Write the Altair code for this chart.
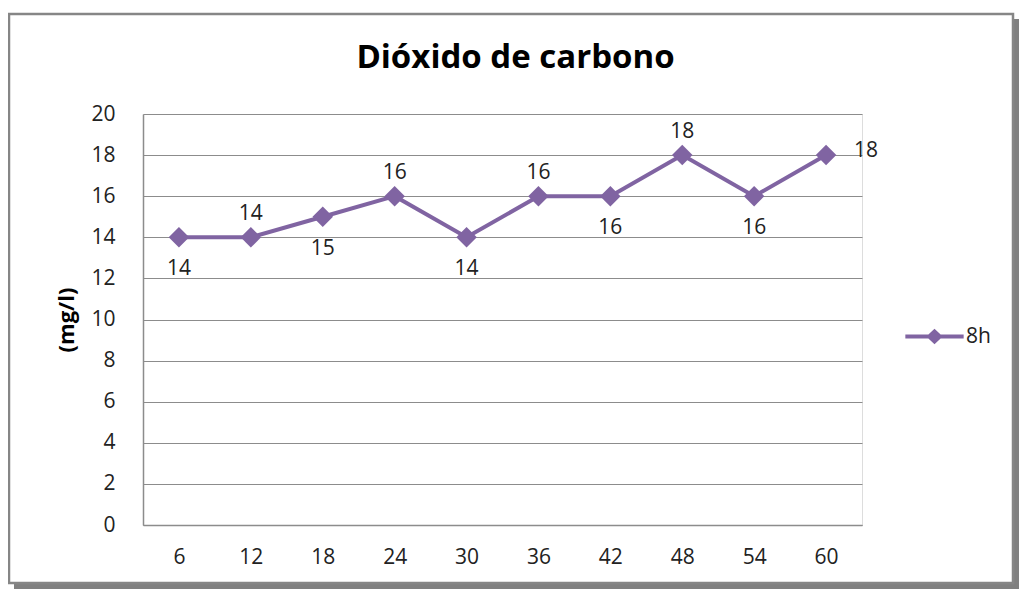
import altair as alt
import pandas as pd

hours = [6, 12, 18, 24, 30, 36, 42, 48, 54, 60]
co2 = [14, 14, 15, 16, 14, 16, 16, 18, 16, 18]
series = ["8h"] * len(hours)
y_ticks = [0, 2, 4, 6, 8, 10, 12, 14, 16, 18, 20]

df = pd.DataFrame({"hora": hours, "valor": co2, "serie": series})

PURPLE = "#8064A2"
FONT = "Open Sans"

below = [6, 18, 30, 42, 54]
above = [12, 24, 36, 48]
right = [60]

frame_data = alt.Data(values=[{"k": 1}])

shadow_right = alt.Chart(frame_data).mark_rect(color="#808080").encode(
    x=alt.value(870), x2=alt.value(877), y=alt.value(-95), y2=alt.value(476)
)
shadow_bottom = alt.Chart(frame_data).mark_rect(color="#808080").encode(
    x=alt.value(-129), x2=alt.value(877), y=alt.value(469), y2=alt.value(476)
)
border = alt.Chart(frame_data).mark_rect(
    fill=None, fillOpacity=0, stroke="#868686", strokeWidth=2.5
).encode(x=alt.value(-134), x2=alt.value(870), y=alt.value(-100), y2=alt.value(469))

base = alt.Chart(df)

x_enc = alt.X(
    "hora:O",
    title=None,
    sort=hours,
    scale=alt.Scale(paddingInner=0, paddingOuter=0.5),
    axis=alt.Axis(
        labelAngle=0, ticks=False, labelPadding=21, labelFont=FONT,
        labelFontSize=21, labelColor="#222", domainColor="#8c8c8c", domainWidth=1.5,
        grid=False,
    ),
)
y_enc = alt.Y(
    "valor:Q",
    title="(mg/l)",
    scale=alt.Scale(domain=[0, 20], nice=False),
    axis=alt.Axis(
        values=y_ticks, ticks=False, labelPadding=28, labelFont=FONT, labelFontSize=21,
        labelColor="#222", domainColor="#8c8c8c", domainWidth=1.5, gridColor="#8c8c8c",
        gridWidth=1, titleFont=FONT, titleFontSize=22, titleFontWeight="bold",
        titleColor="#000", titlePadding=12,
    ),
)

line = base.mark_line(color=PURPLE, strokeWidth=4).encode(x=x_enc, y=y_enc)

leg_path = ("M-1,-0.07 L-0.21,-0.07 L0,-0.27 L0.21,-0.07 L1,-0.07 L1,0.07 "
            "L0.21,0.07 L0,0.27 L-0.21,0.07 L-1,0.07 Z")

points = base.mark_point(shape="diamond", filled=True, size=420, opacity=1).encode(
    x=alt.X("hora:O", sort=hours),
    y="valor:Q",
    color=alt.Color(
        "serie:N",
        scale=alt.Scale(range=[PURPLE]),
        legend=alt.Legend(
            title=None, orient="none", legendX=762, legendY=193,
            symbolType=leg_path, symbolSize=3400, symbolStrokeWidth=0,
            symbolOpacity=1, labelFont=FONT, labelFontSize=21, labelColor="#222",
            labelOffset=2,
        ),
    ),
)

def labels(keys, **kw):
    return base.transform_filter(
        alt.FieldOneOfPredicate(field="hora", oneOf=keys)
    ).mark_text(font=FONT, fontSize=21, color="#222", **kw).encode(
        x=alt.X("hora:O", sort=hours), y="valor:Q", text="valor:Q"
    )

lab_below = labels(below, dy=32, baseline="middle")
lab_above = labels(above, dy=-23, baseline="middle")
lab_right = labels(right, dx=28, dy=-4, align="left", baseline="middle")

chart = alt.layer(
    shadow_right, shadow_bottom, border, line, points, lab_below, lab_above, lab_right
).properties(
    width=719,
    height=411,
    title=alt.TitleParams(
        "Dióxido de carbono", font=FONT, fontSize=33, fontWeight="bold",
        color="#000", anchor="middle", frame="group", offset=0, dy=88, dx=13,
        baseline="alphabetic",
    ),
    autosize=alt.AutoSizeParams(type="none"),
    padding={"left": 135, "top": 106, "right": 157, "bottom": 64},
).configure_view(stroke=None).configure(background="white")

chart.save("out.html", embed_options={"renderer": "svg", "actions": False})
